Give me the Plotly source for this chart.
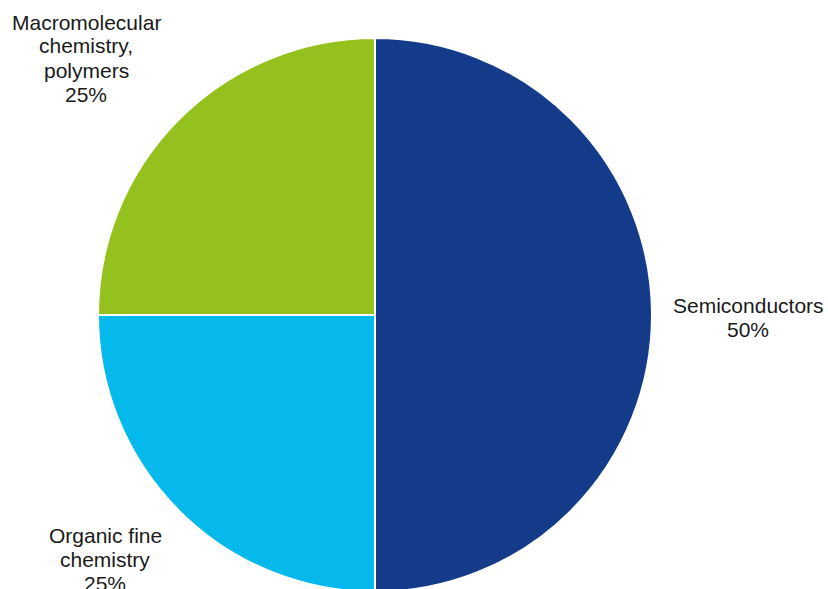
import plotly.graph_objects as go

# Share of applications by technology field
fields = ["Semiconductors", "Organic fine chemistry", "Macromolecular chemistry, polymers"]
label_lines = [["Semiconductors"], ["Organic fine", "chemistry"], ["Macromolecular", "chemistry,", "polymers"]]
shares = [50, 25, 25]
colors = ["#143b8a", "#05b9ed", "#95c11f"]

W, H = 828, 593

fig = go.Figure(
    go.Pie(
        labels=fields,
        values=shares,
        sort=False,
        direction="clockwise",
        rotation=0,
        textinfo="none",
        hoverinfo="label+percent",
        marker=dict(colors=colors, line=dict(color="white", width=2)),
        domain=dict(x=[98 / W, 652 / W], y=[1 - 592 / H, 1 - 38 / H]),
        showlegend=False,
    )
)

# outside labels: (centre x px, first line centre y px)
label_pos = [(748, 305), (105, 535), (86, 22)]
line_gap = 24
annotations = []
for lines, share, (px, py) in zip(label_lines, shares, label_pos):
    for i, txt in enumerate(lines + [f"{share}%"]):
        annotations.append(
            dict(
                x=px / W,
                y=1 - (py + i * line_gap) / H,
                xref="paper",
                yref="paper",
                text=txt,
                showarrow=False,
                xanchor="center",
                yanchor="middle",
                font=dict(family="Liberation Sans, Arial, sans-serif", size=21, color="#1a1a1a"),
            )
        )

fig.update_layout(
    width=W,
    height=H,
    margin=dict(l=0, r=0, t=0, b=0),
    paper_bgcolor="white",
    plot_bgcolor="white",
    annotations=annotations,
)

fig.write_html("out.html")
